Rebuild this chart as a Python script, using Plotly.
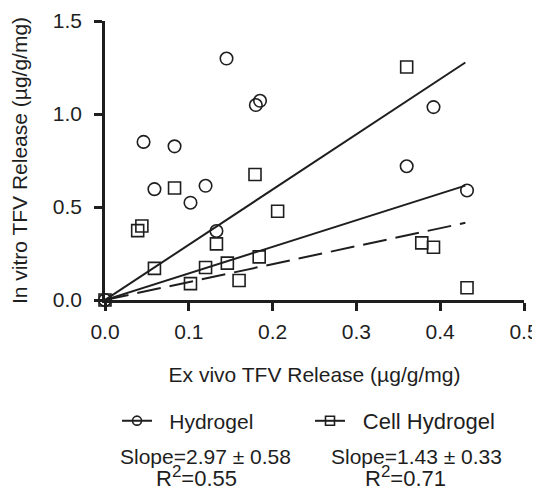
import plotly.graph_objects as go

# Hydrogel data (ex vivo x, in vitro y)
hydro_x = [0.0, 0.046, 0.059, 0.083, 0.102, 0.120, 0.133, 0.145, 0.180, 0.185, 0.360, 0.392, 0.432]
hydro_y = [0.0, 0.850, 0.596, 0.826, 0.523, 0.614, 0.371, 1.298, 1.048, 1.071, 0.719, 1.037, 0.589]

# Cell Hydrogel data
cell_x = [0.0, 0.039, 0.044, 0.059, 0.083, 0.102, 0.120, 0.133, 0.146, 0.160, 0.179, 0.184, 0.206, 0.360, 0.378, 0.392, 0.432]
cell_y = [0.0, 0.373, 0.398, 0.170, 0.602, 0.088, 0.175, 0.302, 0.198, 0.105, 0.675, 0.232, 0.477, 1.253, 0.307, 0.284, 0.066]

# Regression lines (through origin)
fit_x_end = 0.43
slope_hydro = 2.97
slope_cell = 1.43
slope_dashed = 0.965

series_names = ["\u2002\u200aHydrogel", "\u2002\u200aCell Hydrogel"]
slope_labels = ["Slope=2.97 ± 0.58", "Slope=1.43 ± 0.33"]
r2_labels = ["R<sup><span style='font-size:17px'>2</span></sup>=0.55",
             "R<sup><span style='font-size:17px'>2</span></sup>=0.71"]

x_ticks = [0.0, 0.1, 0.2, 0.3, 0.4, 0.5]
y_ticks = [0.0, 0.5, 1.0, 1.5]

INK = "#1e1e1e"
FONT = "Liberation Sans, Arial, sans-serif"

fig = go.Figure()

def line_xy(slope):
    return [0.0, fit_x_end], [0.0, slope * fit_x_end]

lx, ly = line_xy(slope_hydro)
fig.add_trace(go.Scatter(x=lx, y=ly, mode="lines", line=dict(color=INK, width=2), showlegend=False, hoverinfo="skip"))
lx, ly = line_xy(slope_cell)
fig.add_trace(go.Scatter(x=lx, y=ly, mode="lines", line=dict(color=INK, width=2), showlegend=False, hoverinfo="skip"))
lx, ly = line_xy(slope_dashed)
fig.add_trace(go.Scatter(x=lx, y=ly, mode="lines", line=dict(color=INK, width=2, dash="24px,9px"), showlegend=False, hoverinfo="skip"))

fig.add_trace(go.Scatter(
    x=hydro_x, y=hydro_y, mode="markers", name=series_names[0],
    marker=dict(symbol="circle-open", size=12.5, color=INK, line=dict(width=1.6, color=INK)),
    cliponaxis=False, showlegend=False))
fig.add_trace(go.Scatter(
    x=cell_x, y=cell_y, mode="markers", name=series_names[1],
    marker=dict(symbol="square-open", size=12, color=INK, line=dict(width=1.6, color=INK)),
    cliponaxis=False, showlegend=False))

# legend entries (line + marker)
fig.add_trace(go.Scatter(
    x=[None], y=[None], mode="lines+markers", name=series_names[0],
    line=dict(color=INK, width=2),
    marker=dict(symbol="circle-open", size=9, color=INK, line=dict(width=1.6, color=INK)),
    legend="legend"))
fig.add_trace(go.Scatter(
    x=[None], y=[None], mode="lines+markers", name=series_names[1],
    line=dict(color=INK, width=2),
    marker=dict(symbol="square-open", size=9, color=INK, line=dict(width=1.6, color=INK)),
    legend="legend2"))

# page has an 8px body margin: lay out in page pixels, convert to figure pixels
OFF = 8
W, H = 540 - OFF, 491 - OFF
PX0, PX1, PY_TOP, PY_BOT = 105, 524, 21, 300   # plot area in page pixels
L = PX0 - OFF
R = W - (PX1 - OFF)
T = PY_TOP - OFF
B = H - (PY_BOT - OFF)
pw, ph = W - L - R, H - T - B

def px_to_paper_x(px):
    return (px - PX0) / pw

def px_to_paper_y(py):
    return (PY_BOT - py) / ph

annos = []
slope_cx = [205, 416]
r2_cx = [196, 405]
for i in range(2):
    annos.append(dict(x=px_to_paper_x(slope_cx[i]), y=px_to_paper_y(456), xref="paper", yref="paper",
                      text=slope_labels[i], showarrow=False, xanchor="center", yanchor="middle",
                      font=dict(size=21, color=INK, family=FONT)))
    annos.append(dict(x=px_to_paper_x(r2_cx[i]), y=px_to_paper_y(477), xref="paper", yref="paper",
                      text=r2_labels[i], showarrow=False, xanchor="center", yanchor="middle",
                      font=dict(size=22, color=INK, family=FONT)))

fig.update_layout(
    width=W, height=H,
    margin=dict(l=L, r=R, t=T, b=B, autoexpand=False),
    plot_bgcolor="white", paper_bgcolor="white",
    font=dict(family=FONT, size=21, color=INK),
    annotations=annos,
    legend=dict(x=px_to_paper_x(117), y=px_to_paper_y(421), xanchor="left", yanchor="middle",
                orientation="h", font=dict(size=21, color=INK), bgcolor="rgba(0,0,0,0)", itemwidth=30),
    legend2=dict(x=px_to_paper_x(310), y=px_to_paper_y(421), xanchor="left", yanchor="middle",
                 orientation="h", font=dict(size=22, color=INK), bgcolor="rgba(0,0,0,0)", itemwidth=30),
    xaxis=dict(range=[0, 0.5], tickvals=x_ticks, tickformat=".1f",
               showgrid=False, zeroline=False, showline=True, linewidth=2.5, linecolor=INK,
               ticks="outside", ticklen=8, tickwidth=2.5, tickcolor=INK,
               tickfont=dict(size=21, color=INK), ticklabelstandoff=3,
               title=dict(text="Ex vivo TFV Release (µg/g/mg)", font=dict(size=21, color=INK), standoff=26)),
    yaxis=dict(range=[0, 1.5], tickvals=y_ticks, tickformat=".1f",
               showgrid=False, zeroline=False, showline=True, linewidth=2.5, linecolor=INK,
               ticks="outside", ticklen=8, tickwidth=2.5, tickcolor=INK,
               tickfont=dict(size=21, color=INK), ticklabelstandoff=8,
               title=dict(text="In vitro TFV Release (µg/g/mg)", font=dict(size=21, color=INK), standoff=20)),
)

fig.write_html("out.html")
